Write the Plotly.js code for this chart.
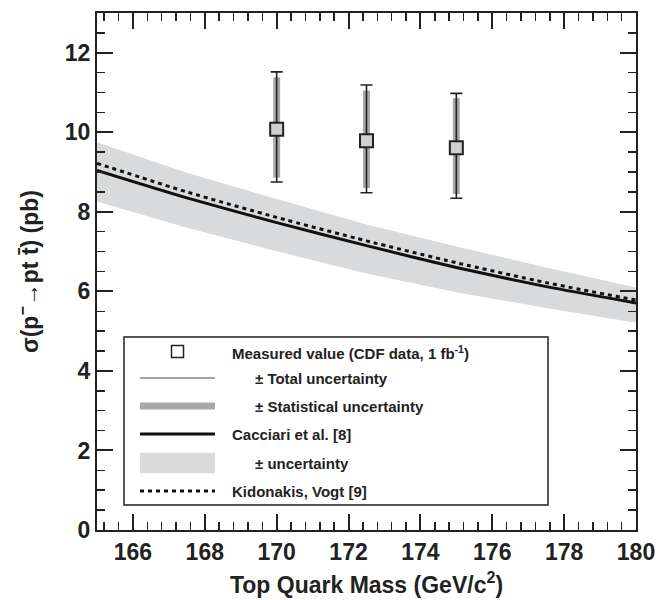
<!DOCTYPE html>
<html>
<head>
<meta charset="utf-8">
<script src="https://cdn.plot.ly/plotly-3.0.1.min.js"></script>
<style>html,body{margin:0;padding:0;background:#fff;}#chart{width:671px;height:600px;}</style>
</head>
<body>
<div id="chart"></div>
<script>
// Theory curves (Top quark mass in GeV/c^2, cross-section in pb)
const massGrid     = [165, 167.5, 170, 172.5, 175, 177.5, 180];
const cacciari     = [9.04, 8.35, 7.73, 7.15, 6.60, 6.12, 5.71];
const cacciariUp   = [9.75, 8.98, 8.32, 7.68, 7.13, 6.60, 6.10];
const cacciariDown = [8.26, 7.60, 7.01, 6.45, 5.98, 5.58, 5.21];
const kidonakis    = [9.22, 8.50, 7.86, 7.27, 6.72, 6.22, 5.78];

// Measured values (CDF data, 1 fb^-1)
const measMass   = [170, 172.5, 175];
const measXsec   = [10.08, 9.79, 9.61];
const totPlus    = [1.44, 1.40, 1.37];
const totMinus   = [1.33, 1.31, 1.27];
const statPlus   = [1.30, 1.26, 1.25];
const statMinus  = [1.22, 1.19, 1.16];

// Axis ticks
const xTicks = [166, 168, 170, 172, 174, 176, 178, 180];
const yTicks = [0, 2, 4, 6, 8, 10, 12];

const FONT = 'Liberation Sans, Arial, Helvetica, sans-serif';
const BAND = '#d9dadb';
const STAT = '#a8a8a8';

const traces = [
  {x: massGrid, y: cacciariDown, mode: 'lines', line: {width: 0, color: 'rgba(0,0,0,0)'}, hoverinfo: 'skip', showlegend: false},
  {x: massGrid, y: cacciariUp, mode: 'lines', fill: 'tonexty', fillcolor: BAND, line: {width: 0, color: 'rgba(0,0,0,0)'}, showlegend: false},
  {x: massGrid, y: cacciari, mode: 'lines', line: {color: '#111', width: 3, shape: 'spline', smoothing: 0.6}, showlegend: false},
  {x: massGrid, y: kidonakis, mode: 'lines', line: {color: '#111', width: 3, dash: '4px,4px', shape: 'spline', smoothing: 0.6}, showlegend: false},
  {x: measMass, y: measXsec, mode: 'markers', marker: {size: 1, color: 'rgba(0,0,0,0)'},
   error_y: {type: 'data', symmetric: false, array: statPlus, arrayminus: statMinus, color: STAT, thickness: 7, width: 0}, showlegend: false},
  {x: measMass, y: measXsec, mode: 'markers',
   marker: {symbol: 'square', size: 13, color: '#d0d0d0', line: {color: '#222', width: 2}},
   error_y: {type: 'data', symmetric: false, array: totPlus, arrayminus: totMinus, color: '#222', thickness: 1.6, width: 6}, showlegend: false}
];

// legend geometry helpers (paper coordinates)
const L = 97, W = 539, B = 530, H = 517;
const px = v => (v - L) / W;
const py = v => (B - v) / H;
const rows = [352, 378, 406, 434, 463, 491];
const symX0 = px(140), symX1 = px(215);

const shapes = [
  {type: 'rect', xref: 'paper', yref: 'paper', x0: px(124), x1: px(548), y0: py(505), y1: py(337), line: {color: '#222', width: 1.5}, fillcolor: 'white', layer: 'above'},
  {type: 'rect', xref: 'paper', yref: 'paper', x0: px(171.5), x1: px(183.5), y0: py(357.5), y1: py(345.5), line: {color: '#222', width: 1.5}, fillcolor: 'white', layer: 'above'},
  {type: 'line', xref: 'paper', yref: 'paper', x0: symX0, x1: symX1, y0: py(rows[1]), y1: py(rows[1]), line: {color: '#444', width: 1}, layer: 'above'},
  {type: 'line', xref: 'paper', yref: 'paper', x0: symX0, x1: symX1, y0: py(rows[2]), y1: py(rows[2]), line: {color: STAT, width: 7}, layer: 'above'},
  {type: 'line', xref: 'paper', yref: 'paper', x0: symX0, x1: symX1, y0: py(rows[3]), y1: py(rows[3]), line: {color: '#111', width: 3}, layer: 'above'},
  {type: 'rect', xref: 'paper', yref: 'paper', x0: symX0, x1: symX1, y0: py(473.3), y1: py(452.7), line: {width: 0}, fillcolor: BAND, layer: 'above'},
  {type: 'line', xref: 'paper', yref: 'paper', x0: symX0, x1: symX1, y0: py(rows[5]), y1: py(rows[5]), line: {color: '#111', width: 3, dash: '4px,4px'}, layer: 'above'}
];

const legTexts = [
  [230, 'Measured value (CDF data, 1 fb<sup>-1</sup>)'],
  [253, '± Total uncertainty'],
  [253, '± Statistical uncertainty'],
  [230, 'Cacciari et al. [8]'],
  [253, '± uncertainty'],
  [230, 'Kidonakis, Vogt [9]']
];
const annotations = legTexts.map((t, i) => ({
  xref: 'paper', yref: 'paper', x: px(t[0]), y: py(rows[i]), xanchor: 'left', yanchor: 'middle',
  text: t[1], showarrow: false, font: {family: FONT, size: 15, weight: 'bold', color: '#222'}
}));

const axisCommon = {
  showgrid: false, zeroline: false, showline: true, linecolor: '#222', linewidth: 2,
  mirror: 'ticks', ticks: 'inside', ticklen: 16, tickwidth: 2, tickcolor: '#222',
  tickfont: {family: FONT, size: 23, weight: 'bold', color: '#222'}
};

const layout = {
  width: 671, height: 600,
  margin: {l: 97, r: 35, t: 13, b: 70},
  paper_bgcolor: 'white', plot_bgcolor: 'white',
  showlegend: false,
  xaxis: Object.assign({}, axisCommon, {
    range: [165, 180], tickvals: xTicks, ticktext: xTicks.map(String),
    minor: {dtick: 0.4, tick0: 166, ticks: 'inside', ticklen: 8, tickwidth: 1.5, tickcolor: '#222'},
    title: {text: 'Top Quark Mass (GeV/c<sup>2</sup>)', font: {family: FONT, size: 23, weight: 'bold', color: '#222'}, standoff: 13}
  }),
  yaxis: Object.assign({}, axisCommon, {
    range: [0, 13], tickvals: yTicks, ticktext: yTicks.map(String),
    minor: {dtick: 0.5, tick0: 0, ticks: 'inside', ticklen: 8, tickwidth: 1.5, tickcolor: '#222'},
    title: {text: 'σ(p<sup>−</sup>→pt t̄) (pb)', font: {family: FONT, size: 23, weight: 'bold', color: '#222'}, standoff: 20}
  }),
  shapes: shapes,
  annotations: annotations
};

Plotly.newPlot('chart', traces, layout, {displayModeBar: false, staticPlot: true});
</script>
</body>
</html>
